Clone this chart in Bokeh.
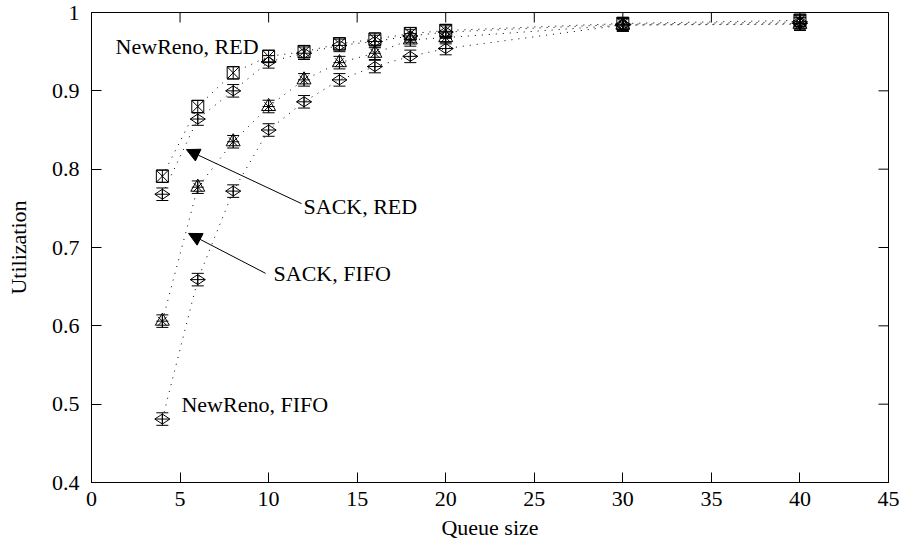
import math
from bokeh.plotting import figure
from bokeh.models import (ColumnDataSource, Whisker, TeeHead, Arrow, NormalHead, Label,
                          FixedTicker, Range1d)
from bokeh.embed import file_html
from bokeh.resources import INLINE

# ---- data ----
queue = [4, 6, 8, 10, 12, 14, 16, 18, 20, 30, 40]
newreno_red = [0.791, 0.880, 0.923, 0.944, 0.950, 0.960, 0.966, 0.973, 0.977, 0.986, 0.990]
sack_red = [0.768, 0.864, 0.900, 0.937, 0.948, 0.958, 0.963, 0.970, 0.975, 0.985, 0.988]
sack_fifo = [0.606, 0.777, 0.835, 0.880, 0.914, 0.936, 0.948, 0.965, 0.968, 0.984, 0.985]
newreno_fifo = [0.481, 0.659, 0.772, 0.850, 0.886, 0.914, 0.931, 0.944, 0.954, 0.984, 0.986]
err = 0.008

x_ticks = [0, 5, 10, 15, 20, 25, 30, 35, 40, 45]
y_ticks = [0.4, 0.5, 0.6, 0.7, 0.8, 0.9, 1.0]
x_min, x_max = 0, 45
y_min, y_max = 0.4, 1.0

FONT = "Liberation Serif"
FS = "22px"

p = figure(width=900, height=542, x_range=Range1d(x_min, x_max), y_range=Range1d(y_min, y_max),
           output_backend="svg", toolbar_location=None,
           min_border_left=91, min_border_right=12, min_border_top=12, min_border_bottom=56)
p.xgrid.visible = False
p.ygrid.visible = False
p.outline_line_color = "black"
p.outline_line_width = 1
p.background_fill_color = "white"
p.border_fill_color = "white"

p.xaxis.ticker = FixedTicker(ticks=x_ticks)
p.yaxis.ticker = FixedTicker(ticks=y_ticks)
p.yaxis.major_label_overrides = {1: "1"}
p.xaxis.axis_label = "Queue size"
p.yaxis.axis_label = "Utilization"

for ax in list(p.xaxis) + list(p.yaxis):
    ax.major_tick_in = 10
    ax.major_tick_out = 0
    ax.minor_tick_line_color = None
    ax.axis_line_color = "black"
    ax.major_tick_line_color = "black"
    ax.major_label_text_font = FONT
    ax.major_label_text_font_size = FS
    ax.major_label_text_color = "black"
    ax.axis_label_text_font = FONT
    ax.axis_label_text_font_size = FS
    ax.axis_label_text_font_style = "normal"
    ax.axis_label_text_color = "black"
p.xaxis.major_label_standoff = 9
p.xaxis.axis_label_standoff = 6
p.yaxis.major_label_standoff = 12
p.yaxis.axis_label_standoff = 18

# mirrored inward ticks on the top and right edges (clipped to the frame)
p.scatter(x_ticks, [y_max] * len(x_ticks), marker="dash", size=20, angle=math.pi / 2,
          line_color="black", line_width=1)
p.scatter([x_max] * len(y_ticks), y_ticks, marker="dash", size=20,
          line_color="black", line_width=1)

series = [newreno_red, sack_red, sack_fifo, newreno_fifo]
for ys in series:
    p.line(queue, ys, line_dash="1 6", line_color="black", line_width=1)
    src = ColumnDataSource(dict(x=queue, lo=[v - err for v in ys], hi=[v + err for v in ys]))
    p.add_layout(Whisker(source=src, base="x", lower="lo", upper="hi", dimension="height",
                         line_color="black", line_width=1,
                         upper_head=TeeHead(size=12, line_color="black", line_width=1),
                         lower_head=TeeHead(size=12, line_color="black", line_width=1)))

p.scatter(queue, newreno_red, marker="square_x", size=12, fill_color=None,
          line_color="black", line_width=1)
p.scatter(queue, sack_red, marker="diamond_cross", size=15, angle=math.pi / 2,
          fill_color=None, line_color="black", line_width=1)
p.scatter(queue, newreno_fifo, marker="diamond_cross", size=15, angle=math.pi / 2,
          fill_color=None, line_color="black", line_width=1)
p.scatter(queue, sack_fifo, marker="triangle", size=14, fill_color=None,
          line_color="black", line_width=1)
p.scatter(queue, sack_fifo, marker="asterisk", size=12, line_color="black", line_width=1)

labels = [
    ("NewReno, RED", 1.36, 0.957),
    ("SACK, RED", 11.97, 0.752),
    ("SACK, FIFO", 10.28, 0.667),
    ("NewReno, FIFO", 5.08, 0.499),
]
for txt, lx, ly in labels:
    p.add_layout(Label(x=lx, y=ly, text=txt, text_baseline="middle", text_align="left",
                       text_font=FONT, text_font_size=FS, text_color="black"))

arrows = [
    (11.86, 0.756, 5.36, 0.825),
    (9.83, 0.667, 5.48, 0.718),
]
for xs, ys_, xe, ye in arrows:
    p.add_layout(Arrow(x_start=xs, y_start=ys_, x_end=xe, y_end=ye, line_color="black",
                       line_width=1,
                       end=NormalHead(size=13, fill_color="black", line_color="black")))

open("out.html", "w").write(file_html(p, INLINE))
